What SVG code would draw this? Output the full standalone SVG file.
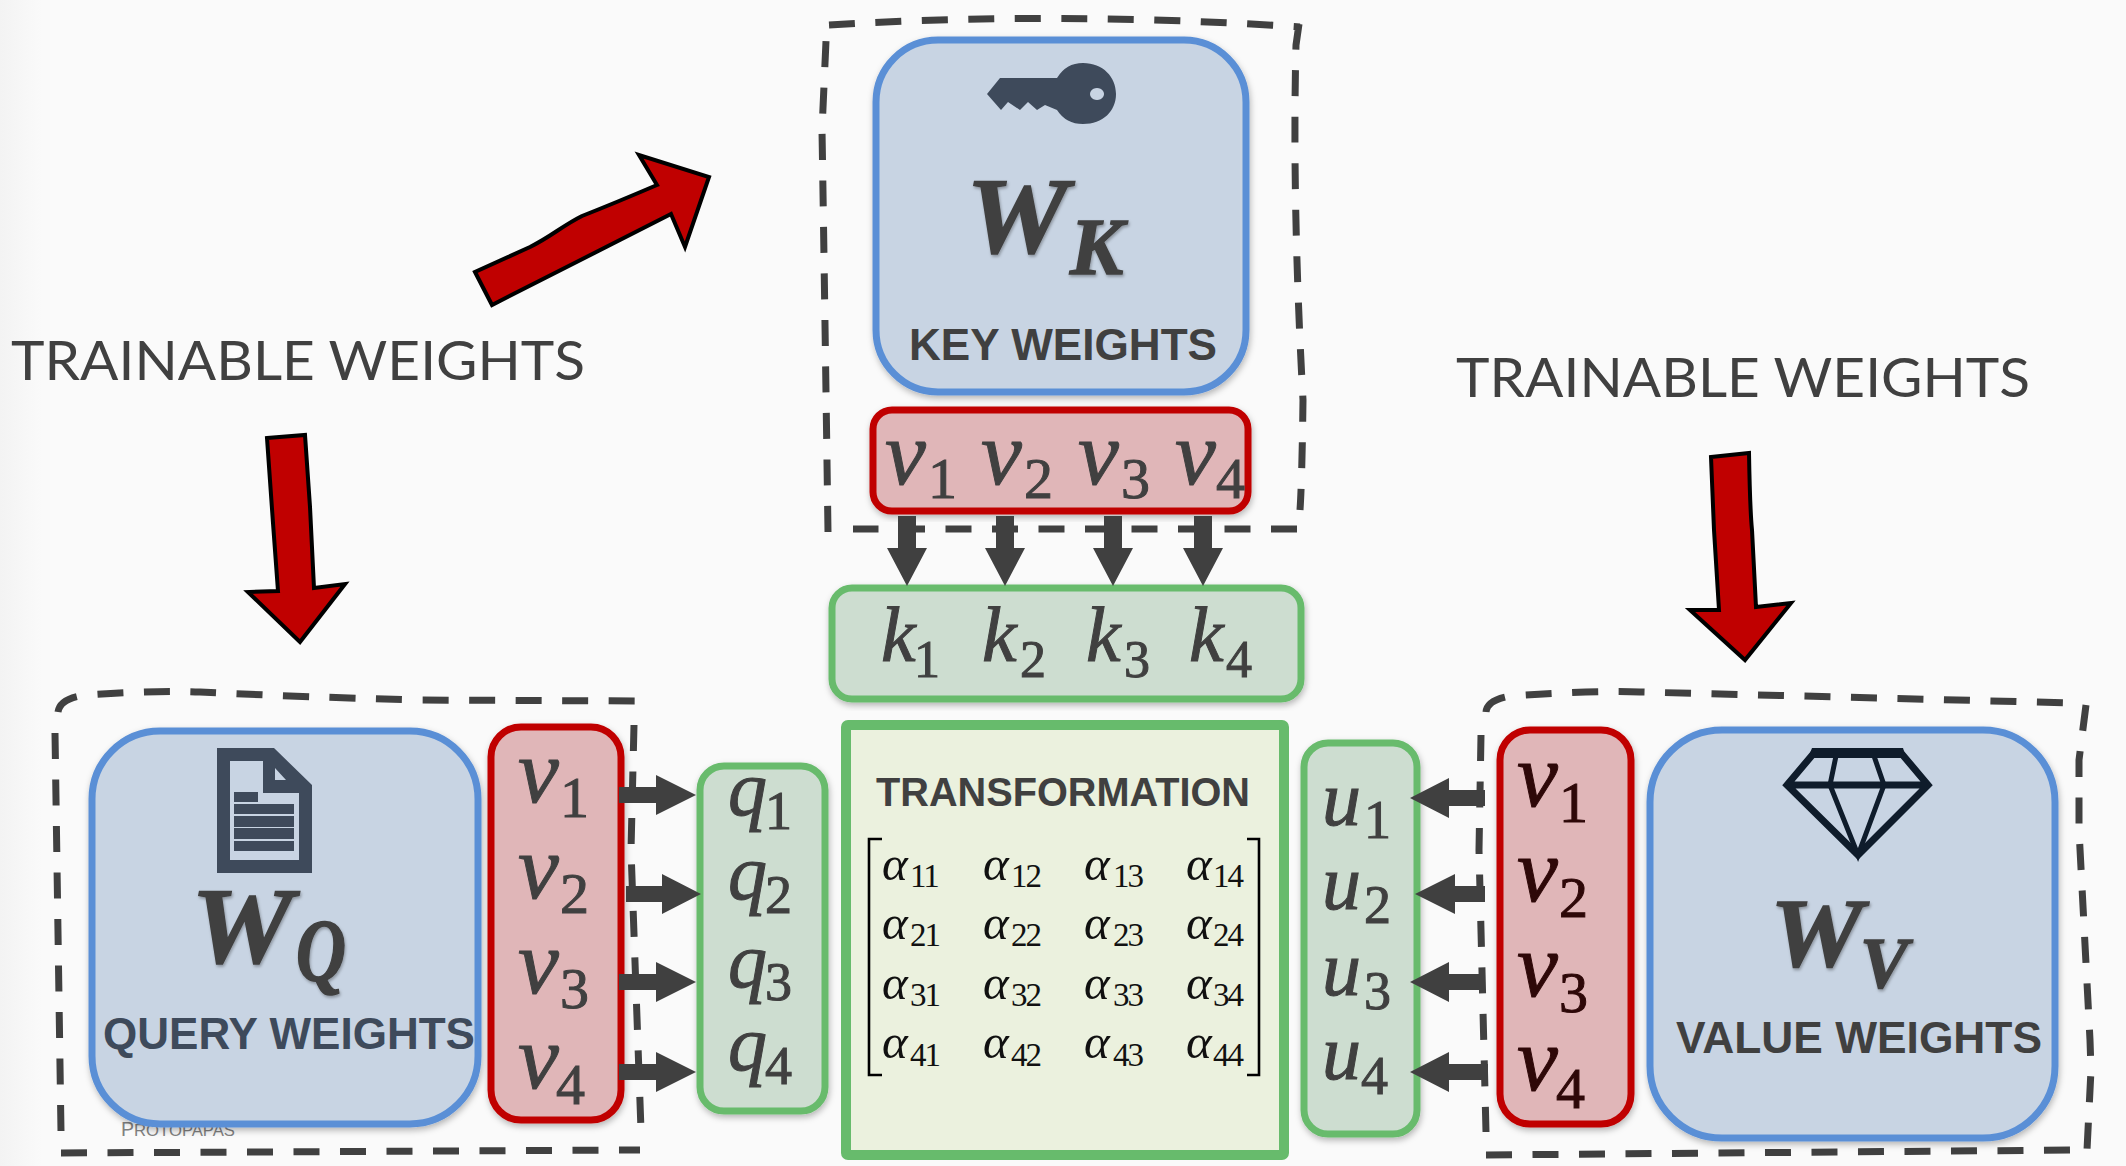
<svg xmlns="http://www.w3.org/2000/svg" width="2126" height="1166" viewBox="0 0 2126 1166">
<defs>
<linearGradient id="edge" x1="0" x2="1" y1="0" y2="0"><stop offset="0" stop-color="#f3f3f3"/><stop offset="0.02" stop-color="#fafafa"/><stop offset="1" stop-color="#fafafa"/></linearGradient>
<filter id="sh" x="-10%" y="-10%" width="120%" height="120%"><feDropShadow dx="1" dy="3" stdDeviation="3" flood-color="#000" flood-opacity="0.28"/></filter>
<filter id="tsh" x="-10%" y="-10%" width="120%" height="120%"><feDropShadow dx="1" dy="2" stdDeviation="1.5" flood-color="#000" flood-opacity="0.3"/></filter>
</defs>
<style>
.bl{fill:#c8d4e3;stroke:#5a8fd6;stroke-width:7}
.rd{fill:#e0b6b8;stroke:#c00000;stroke-width:7}
.gr{fill:#cdddd0;stroke:#67bb6c;stroke-width:7}
.dash{fill:none;stroke:#404040;stroke-width:7;stroke-dasharray:26 20.5}
.arw{fill:#404040}
.big{fill:#404040;stroke:#404040;stroke-width:1.5;font-family:"Liberation Serif",serif;font-weight:700;font-style:italic;filter:url(#tsh)}
.lab{fill:#404040;font-family:"Liberation Sans",Arial,sans-serif;font-weight:700;font-size:45px}
.m{fill:#404040;stroke:#404040;stroke-width:1;font-family:"Liberation Serif",serif;font-style:italic;font-size:92px}
.m tspan{font-style:normal;font-size:58px}
.mk{font-size:78px}
.mk tspan{font-size:52px}
.mq{font-size:78px}
.mq tspan{font-size:54px}
.mv{fill:#2e0808;stroke:#2e0808}
.a{fill:#111;font-family:"Liberation Serif",serif;font-style:italic;font-size:49px}
.a tspan{font-style:normal;font-size:33px;letter-spacing:-2px}
.tw{fill:#404040;font-family:"Lato",sans-serif;font-size:54px}
.red{fill:#c00000;stroke:#000;stroke-width:4;stroke-linejoin:miter}
.ic{fill:#3e4a5b}
</style>
<rect width="2126" height="1166" fill="url(#edge)"/>
<text x="121" y="1136" fill="#808080" font-family="Liberation Sans,sans-serif" font-size="20" textLength="114" lengthAdjust="spacingAndGlyphs">P<tspan font-size="17">ROTOPAPAS</tspan></text>

<g id="trainable-key">
<path class="dash" d="M829 25Q1060 11 1300 27M1299 24L1296 45Q1292 200 1303 400Q1302 480 1300 510M1297 529L853 529M828 532Q824 250 822 130L826 41"/>
</g>
<g id="trainable-query">
<path class="dash" d="M58 712Q60 698 86 695Q160 690 200 692Q300 697 420 700L636 701Q640 702 640 708M634 725L631 850L641 1130M61 1153L640 1150M55 733L61 1132"/>
</g>
<g id="trainable-value">
<path class="dash" d="M1486 712Q1487 700 1510 696Q1600 690 1640 692L1800 696L2072 703M2086 705L2079 760L2079 830L2090 1040L2091 1070L2087 1150M1486 1155L2072 1150M1481 735L1479 850L1486 1132"/>
</g>

<g id="key-weights">
<rect class="bl" x="876" y="40" width="370" height="352" rx="62" filter="url(#sh)"/>
<path class="ic" fill-rule="evenodd" d="M987 94L1000 78H1057Q1066 63 1083 63C1103 63 1116 77 1116 94C1116 111 1103 124 1083 124Q1066 124 1057 110L1045 105L1037 110L1028 102L1020 110L1008 102L1001 110ZM1097 88a7 6 0 1 0 .01 0Z"/>
<text class="big" x="966" y="252" font-size="107" textLength="102" lengthAdjust="spacingAndGlyphs">W</text>
<text class="big" x="1070" y="274" font-size="80">K</text>
<text class="lab" x="909" y="360" textLength="308" lengthAdjust="spacingAndGlyphs">KEY WEIGHTS</text>
</g>
<g id="key-vectors">
<rect class="rd" x="873" y="410" width="375" height="101" rx="19" filter="url(#sh)"/>
<text class="m" x="885" y="484">v<tspan x="928" y="498">1</tspan></text>
<text class="m" x="981" y="484">v<tspan x="1024" y="498">2</tspan></text>
<text class="m" x="1078" y="484">v<tspan x="1121" y="498">3</tspan></text>
<text class="m" x="1175" y="484">v<tspan x="1216" y="498">4</tspan></text>
</g>
<g id="keys">
<rect class="gr" x="832" y="588" width="469" height="111" rx="20" filter="url(#sh)"/>
<text class="m mk" x="881" y="661">k<tspan x="914" y="677">1</tspan></text>
<text class="m mk" x="982" y="661">k<tspan x="1020" y="677">2</tspan></text>
<text class="m mk" x="1086" y="661">k<tspan x="1124" y="677">3</tspan></text>
<text class="m mk" x="1189" y="661">k<tspan x="1226" y="677">4</tspan></text>
</g>

<g id="query-weights">
<rect class="bl" x="92" y="731" width="386" height="393" rx="68" filter="url(#sh)"/>
<path class="ic" fill-rule="evenodd" d="M217 748H274L312 785V873H217ZM230 761V860H299V793H263V761ZM275 768V780H286Z"/>
<path class="ic" d="M234 792H258V802H234ZM234 804H294V814H234ZM234 816H294V827H234ZM234 828H294V839H234ZM234 841H294V851H234Z"/>
<text class="big" x="191" y="962" font-size="107" textLength="102" lengthAdjust="spacingAndGlyphs">W</text>
<text class="big" x="296" y="980" font-size="88" textLength="50" lengthAdjust="spacingAndGlyphs">Q</text>
<text class="lab" x="103" y="1049" style="fill:#3e4a5b" textLength="372" lengthAdjust="spacingAndGlyphs">QUERY WEIGHTS</text>
</g>
<g id="query-vectors">
<rect class="rd" x="491" y="727" width="130" height="393" rx="30" filter="url(#sh)"/>
<text class="m" x="518" y="802">v<tspan x="560" y="817">1</tspan></text>
<text class="m" x="518" y="898">v<tspan x="560" y="913">2</tspan></text>
<text class="m" x="518" y="993">v<tspan x="560" y="1008">3</tspan></text>
<text class="m" x="518" y="1088">v<tspan x="556" y="1104">4</tspan></text>
</g>
<g id="queries">
<rect class="gr" x="700" y="766" width="125" height="345" rx="24" filter="url(#sh)"/>
<text class="m mq" x="728" y="815">q<tspan x="765" y="829">1</tspan></text>
<text class="m mq" x="728" y="899">q<tspan x="765" y="913">2</tspan></text>
<text class="m mq" x="728" y="987">q<tspan x="765" y="1000">3</tspan></text>
<text class="m mq" x="728" y="1070">q<tspan x="765" y="1084">4</tspan></text>
</g>

<g id="transformation">
<rect x="846" y="725" width="438" height="430" rx="2" fill="#ebf1de" stroke="#67bb6c" stroke-width="10"/>
<text class="lab" x="876" y="806" style="font-size:40px" textLength="374" lengthAdjust="spacingAndGlyphs">TRANSFORMATION</text>
<path d="M882 839H869V1075H882M1247 839H1259V1075H1247" fill="none" stroke="#000" stroke-width="2.6"/>
<text class="a" x="882" y="880">α<tspan x="910" y="887">11</tspan></text><text class="a" x="983" y="880">α<tspan x="1011" y="887">12</tspan></text><text class="a" x="1084" y="880">α<tspan x="1113" y="887">13</tspan></text><text class="a" x="1186" y="880">α<tspan x="1213" y="887">14</tspan></text>
<text class="a" x="882" y="939">α<tspan x="910" y="946">21</tspan></text><text class="a" x="983" y="939">α<tspan x="1011" y="946">22</tspan></text><text class="a" x="1084" y="939">α<tspan x="1113" y="946">23</tspan></text><text class="a" x="1186" y="939">α<tspan x="1213" y="946">24</tspan></text>
<text class="a" x="882" y="999">α<tspan x="910" y="1006">31</tspan></text><text class="a" x="983" y="999">α<tspan x="1011" y="1006">32</tspan></text><text class="a" x="1084" y="999">α<tspan x="1113" y="1006">33</tspan></text><text class="a" x="1186" y="999">α<tspan x="1213" y="1006">34</tspan></text>
<text class="a" x="882" y="1058">α<tspan x="910" y="1066">41</tspan></text><text class="a" x="983" y="1058">α<tspan x="1011" y="1066">42</tspan></text><text class="a" x="1084" y="1058">α<tspan x="1113" y="1066">43</tspan></text><text class="a" x="1186" y="1058">α<tspan x="1213" y="1066">44</tspan></text>
</g>

<g id="values">
<rect class="gr" x="1304" y="743" width="113" height="391" rx="24" filter="url(#sh)"/>
<text class="m mq" x="1322" y="825">u<tspan x="1364" y="838">1</tspan></text>
<text class="m mq" x="1322" y="909">u<tspan x="1364" y="923">2</tspan></text>
<text class="m mq" x="1322" y="995">u<tspan x="1364" y="1009">3</tspan></text>
<text class="m mq" x="1322" y="1079">u<tspan x="1361" y="1094">4</tspan></text>
</g>
<g id="value-vectors">
<rect class="rd" x="1500" y="730" width="131" height="394" rx="30" filter="url(#sh)"/>
<text class="m mv" x="1517" y="806">v<tspan x="1559" y="822">1</tspan></text>
<text class="m mv" x="1517" y="901">v<tspan x="1559" y="917">2</tspan></text>
<text class="m mv" x="1517" y="996">v<tspan x="1559" y="1012">3</tspan></text>
<text class="m mv" x="1517" y="1090">v<tspan x="1556" y="1108">4</tspan></text>
</g>
<g id="value-weights">
<rect class="bl" x="1650" y="730" width="405" height="408" rx="72" filter="url(#sh)"/>
<path d="M1814 753H1901L1928 785L1858 855L1787 785ZM1787 785H1928" fill="none" stroke="#0f1c2b" stroke-width="7" stroke-linejoin="miter"/>
<path d="M1836 756L1830 785L1858 855L1884 785L1874 756" fill="none" stroke="#0f1c2b" stroke-width="5"/>
<path d="M1812 748H1903L1906 758H1808Z" fill="#0f1c2b"/>
<text class="big" x="1770" y="966" font-size="98" textLength="93" lengthAdjust="spacingAndGlyphs">W</text>
<text class="big" x="1860" y="987" font-size="72">V</text>
<text class="lab" x="1676" y="1053" textLength="366" lengthAdjust="spacingAndGlyphs">VALUE WEIGHTS</text>
</g>

<g id="labels">
<text class="tw" x="11" y="380" textLength="574" lengthAdjust="spacingAndGlyphs">TRAINABLE WEIGHTS</text>
<text class="tw" x="1456" y="397" textLength="574" lengthAdjust="spacingAndGlyphs">TRAINABLE WEIGHTS</text>
</g>
<g id="red-arrows">
<path class="red" d="M475 272L492 305L671 214L685 247L709 177L639 155L657 185Q615 203 582 216C562 226 552 236 530 247Z"/>
<path class="red" d="M267 438L305 435Q308 480 310 507L314 588L345 584L300 642L248 592L278 591L273 523Z"/>
<path class="red" d="M1711 457L1749 453Q1750 510 1752 530L1756 607L1791 603L1745 660L1690 610L1719 610L1714 530Z"/>
</g>

<g id="connectors">
<polygon class="arw" points="898,516 916,516 916,548 927,548 907,586 887,548 898,548"/>
<polygon class="arw" points="996,516 1014,516 1014,548 1025,548 1005,586 985,548 996,548"/>
<polygon class="arw" points="1104,516 1122,516 1122,548 1133,548 1113,586 1093,548 1104,548"/>
<polygon class="arw" points="1194,516 1212,516 1212,548 1223,548 1203,586 1183,548 1194,548"/>
<polygon class="arw" points="619,787 656,787 656,775 696,795 656,815 656,803 619,803"/>
<polygon class="arw" points="626,886 662,886 662,874 701,894 662,914 662,902 626,902"/>
<polygon class="arw" points="619,974 656,974 656,962 696,982 656,1002 656,990 619,990"/>
<polygon class="arw" points="619,1064 656,1064 656,1052 696,1072 656,1092 656,1080 619,1080"/>
<polygon class="arw" points="1485,790 1449,790 1449,778 1410,798 1449,818 1449,806 1485,806"/>
<polygon class="arw" points="1485,886 1455,886 1455,874 1415,894 1455,914 1455,902 1485,902"/>
<polygon class="arw" points="1485,974 1449,974 1449,962 1410,982 1449,1002 1449,990 1485,990"/>
<polygon class="arw" points="1488,1064 1449,1064 1449,1052 1410,1072 1449,1092 1449,1080 1488,1080"/>
</g>
</svg>
